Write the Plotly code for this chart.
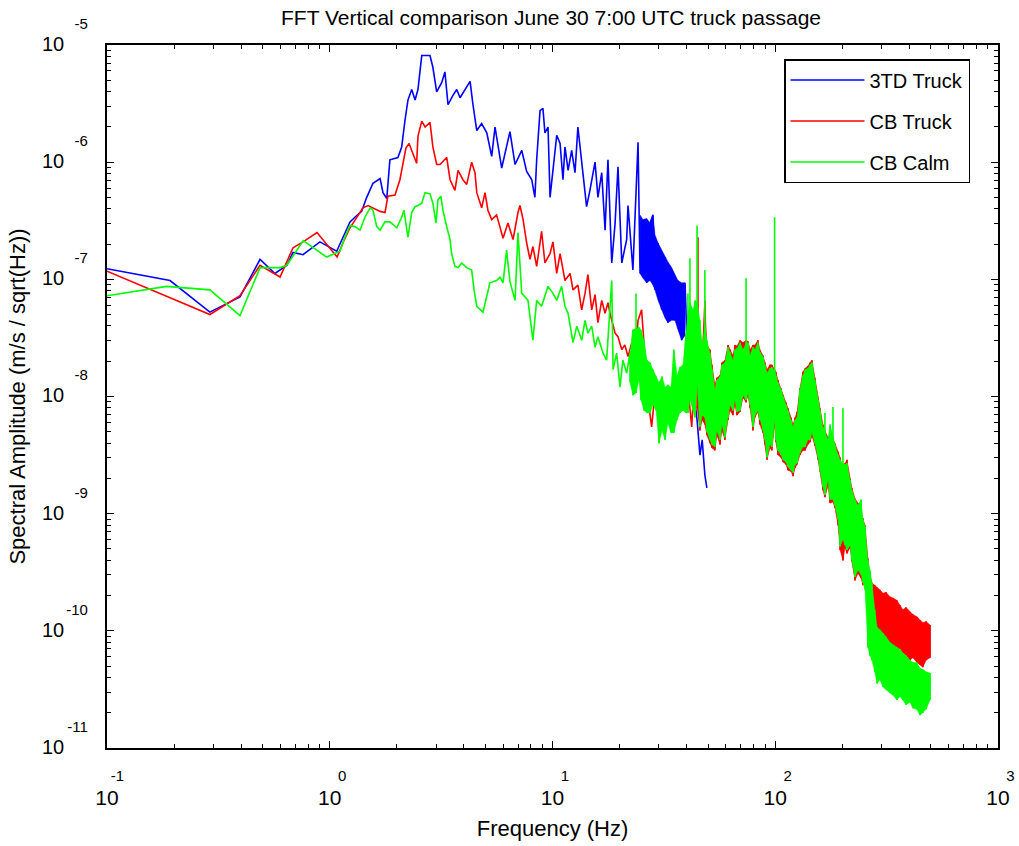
import plotly.graph_objects as go

# Values, stored as decade exponents:
# (log10 frequency [Hz], log10 spectral amplitude [m/s/sqrt(Hz)])
TD3_TRUCK = [
    (-1.000, -6.91), (-0.717, -7.01), (-0.538, -7.28), (-0.403, -7.15), (-0.313, -6.83),
    (-0.246, -6.95), (-0.192, -6.88), (-0.165, -6.77), (-0.120, -6.79), (-0.044, -6.68),
    (0.031, -6.76), (0.059, -6.64), (0.091, -6.51), (0.113, -6.47), (0.143, -6.42),
    (0.166, -6.30), (0.194, -6.18), (0.226, -6.14), (0.239, -6.26), (0.256, -6.31),
    (0.266, -6.08), (0.270, -5.98), (0.306, -5.96), (0.323, -5.87), (0.338, -5.64),
    (0.351, -5.47), (0.368, -5.38), (0.383, -5.47), (0.396, -5.38), (0.413, -5.09),
    (0.450, -5.09), (0.463, -5.19), (0.480, -5.40), (0.503, -5.32), (0.517, -5.23),
    (0.531, -5.51), (0.553, -5.43), (0.570, -5.38), (0.585, -5.45), (0.607, -5.38),
    (0.630, -5.31), (0.643, -5.51), (0.660, -5.73), (0.682, -5.67), (0.705, -5.75),
    (0.727, -5.95), (0.742, -5.70), (0.772, -6.05), (0.809, -5.74), (0.832, -6.02),
    (0.862, -5.90), (0.884, -6.08), (0.907, -6.15), (0.921, -6.30), (0.929, -5.98),
    (0.944, -5.56), (0.957, -5.54), (0.966, -5.75), (0.980, -5.70), (0.989, -6.30),
    (1.002, -6.07), (1.019, -5.77), (1.034, -5.84), (1.047, -6.15), (1.056, -5.87),
    (1.070, -6.07), (1.086, -5.90), (1.101, -6.09), (1.114, -5.70), (1.131, -6.01),
    (1.146, -6.24), (1.153, -6.38), (1.168, -6.24), (1.191, -6.00), (1.204, -6.30),
    (1.221, -6.09), (1.236, -6.58), (1.249, -5.98), (1.266, -6.86), (1.281, -6.52),
    (1.294, -6.04), (1.311, -6.86), (1.333, -6.66), (1.339, -6.37), (1.361, -6.92),
    (1.384, -5.83), (1.393, -6.95), (1.406, -6.58), (1.423, -7.03), (1.438, -6.52),
    (1.451, -6.45), (1.460, -7.09), (1.474, -6.69), (1.490, -7.26), (1.505, -6.81),
    (1.518, -7.37), (1.535, -6.92), (1.550, -7.35), (1.563, -7.01), (1.580, -7.52),
    (1.595, -7.03), (1.602, -7.43), (1.617, -7.69), (1.635, -7.99), (1.649, -8.20),
    (1.662, -8.50), (1.672, -8.37), (1.684, -8.67), (1.693, -8.78),
]

# dense part of the 3TD spectrum: (log10 f, upper envelope, lower envelope)
TD3_TRUCK_BAND = [
    (1.393, -6.45, -6.95), (1.406, -6.49, -6.99), (1.423, -6.48, -7.03), (1.438, -6.52, -7.01),
    (1.451, -6.45, -7.05), (1.460, -6.62, -7.09), (1.474, -6.69, -7.18), (1.490, -6.75, -7.26),
    (1.505, -6.80, -7.33), (1.518, -6.85, -7.37), (1.535, -6.90, -7.35), (1.550, -6.96, -7.35),
    (1.563, -7.01, -7.43), (1.580, -7.03, -7.52), (1.595, -7.03, -7.48),
]

CB_TRUCK_LINE = [
    (-1.000, -6.93), (-0.538, -7.30), (-0.403, -7.14), (-0.313, -6.88), (-0.223, -6.98),
    (-0.165, -6.73), (-0.120, -6.68), (-0.057, -6.60), (0.033, -6.81), (0.059, -6.69),
    (0.091, -6.56), (0.121, -6.47), (0.149, -6.39), (0.172, -6.37), (0.194, -6.39),
    (0.226, -6.42), (0.248, -6.43), (0.261, -6.29), (0.293, -6.28), (0.315, -6.15),
    (0.329, -6.01), (0.342, -5.88), (0.356, -5.84), (0.374, -5.94), (0.390, -6.01),
    (0.396, -5.78), (0.413, -5.65), (0.428, -5.70), (0.450, -5.66), (0.463, -5.87),
    (0.480, -6.02), (0.495, -6.02), (0.525, -5.96), (0.540, -6.15), (0.562, -6.24),
    (0.576, -6.07), (0.598, -6.15), (0.615, -6.19), (0.637, -6.00), (0.652, -6.09),
    (0.660, -6.26), (0.682, -6.39), (0.697, -6.26), (0.710, -6.41), (0.727, -6.49),
    (0.749, -6.45), (0.764, -6.55), (0.778, -6.65), (0.800, -6.52), (0.823, -6.66),
    (0.845, -6.43), (0.854, -6.37), (0.868, -6.49), (0.884, -6.69), (0.899, -6.83),
    (0.912, -6.72), (0.929, -6.89), (0.951, -6.59), (0.966, -6.86), (0.989, -6.78),
    (1.002, -6.68), (1.019, -6.95), (1.034, -6.78), (1.056, -7.01), (1.079, -6.95),
    (1.092, -7.09), (1.114, -7.05), (1.131, -7.26), (1.146, -7.12), (1.159, -6.96),
    (1.176, -7.26), (1.191, -7.13), (1.204, -7.37), (1.221, -7.18), (1.236, -7.29),
    (1.249, -7.20), (1.258, -7.29), (1.281, -7.46), (1.294, -7.49), (1.311, -7.60),
    (1.325, -7.56), (1.339, -7.66), (1.356, -7.54), (1.370, -7.66), (1.384, -7.35),
    (1.400, -7.26), (1.415, -7.66), (1.429, -8.03), (1.445, -8.26), (1.460, -7.97),
    (1.483, -8.09), (1.505, -8.00), (1.527, -8.20), (1.541, -7.97), (1.563, -8.14),
    (1.580, -8.00), (1.595, -8.09), (1.608, -7.92), (1.625, -8.26),
]

CB_TRUCK_BAND = [
    (1.649, -7.45, -8.10), (1.662, -7.43, -8.29), (1.672, -7.60, -8.20), (1.684, -7.18, -8.24),
    (1.693, -7.56, -8.33), (1.707, -7.60, -8.40), (1.716, -7.73, -8.44), (1.729, -7.90, -8.46),
    (1.738, -7.84, -8.33), (1.752, -7.82, -8.41), (1.761, -7.71, -8.29), (1.774, -7.69, -8.37),
    (1.788, -7.56, -8.20), (1.797, -7.60, -8.12), (1.810, -7.65, -8.16), (1.819, -7.56, -8.07),
    (1.828, -7.57, -8.16), (1.842, -7.52, -8.13), (1.855, -7.54, -8.01), (1.869, -7.52, -8.05),
    (1.878, -7.53, -7.99), (1.887, -7.60, -8.10), (1.900, -7.56, -8.29), (1.909, -7.56, -8.18),
    (1.922, -7.52, -8.13), (1.931, -7.60, -8.24), (1.945, -7.65, -8.31), (1.954, -7.71, -8.41),
    (1.963, -7.77, -8.54), (1.976, -7.73, -8.44), (1.985, -7.73, -8.46), (1.997, -7.77, -8.24),
    (2.003, -7.79, -8.39), (2.012, -7.86, -8.50), (2.026, -7.93, -8.52), (2.035, -7.99, -8.56),
    (2.048, -8.05, -8.58), (2.057, -8.10, -8.63), (2.071, -8.18, -8.64), (2.080, -8.24, -8.68),
    (2.089, -8.18, -8.61), (2.098, -8.13, -8.58), (2.111, -7.93, -8.50), (2.124, -7.79, -8.46),
    (2.134, -7.76, -8.46), (2.147, -7.74, -8.41), (2.156, -7.71, -8.39), (2.165, -7.69, -8.34),
    (2.178, -7.84, -8.42), (2.192, -8.01, -8.54), (2.201, -8.10, -8.64), (2.214, -8.24, -8.80),
    (2.223, -8.29, -8.86), (2.237, -8.35, -8.76), (2.246, -8.33, -8.91), (2.259, -8.37, -8.90),
    (2.268, -8.40, -8.95), (2.282, -8.47, -9.10), (2.291, -8.52, -9.31), (2.304, -8.63, -9.40),
    (2.313, -8.57, -9.29), (2.322, -8.54, -9.34), (2.336, -8.70, -9.29), (2.344, -8.78, -9.41),
    (2.358, -8.87, -9.57), (2.371, -8.91, -9.51), (2.385, -8.99, -9.55), (2.394, -9.04, -9.61),
    (2.403, -9.10, -9.57), (2.416, -9.38, -9.74), (2.425, -9.52, -9.99), (2.434, -9.59, -10.08),
    (2.447, -9.61, -10.04), (2.457, -9.63, -10.02), (2.470, -9.65, -9.99), (2.484, -9.68, -10.02),
    (2.497, -9.67, -10.08), (2.515, -9.71, -10.10), (2.529, -9.72, -10.12), (2.546, -9.74, -10.16),
    (2.560, -9.78, -10.15), (2.573, -9.82, -10.19), (2.587, -9.80, -10.21), (2.605, -9.84, -10.25),
    (2.618, -9.86, -10.23), (2.636, -9.88, -10.27), (2.650, -9.91, -10.29), (2.663, -9.93, -10.31),
    (2.677, -9.92, -10.25), (2.695, -9.95, -10.23),
]

# isolated narrow peaks: (log10 f, peak, base)
CB_TRUCK_SPIKES = [(1.653, -6.64, -7.90)]

CB_CALM_LINE = [
    (-1.000, -7.14), (-0.732, -7.06), (-0.538, -7.09), (-0.403, -7.31), (-0.313, -6.90),
    (-0.223, -6.90), (-0.193, -6.88), (-0.119, -6.67), (-0.014, -6.81), (0.046, -6.76),
    (0.068, -6.64), (0.091, -6.54), (0.113, -6.55), (0.136, -6.58), (0.158, -6.47),
    (0.181, -6.39), (0.194, -6.41), (0.211, -6.55), (0.226, -6.58), (0.248, -6.51),
    (0.270, -6.51), (0.301, -6.56), (0.323, -6.47), (0.333, -6.41), (0.351, -6.64),
    (0.368, -6.43), (0.383, -6.38), (0.396, -6.37), (0.413, -6.35), (0.428, -6.26),
    (0.450, -6.27), (0.463, -6.35), (0.477, -6.52), (0.486, -6.32), (0.499, -6.29),
    (0.508, -6.41), (0.525, -6.55), (0.540, -6.66), (0.547, -6.78), (0.562, -6.89),
    (0.576, -6.90), (0.592, -6.86), (0.615, -6.90), (0.637, -6.92), (0.648, -7.09),
    (0.660, -7.23), (0.688, -7.28), (0.719, -7.03), (0.749, -7.01), (0.764, -6.98),
    (0.778, -7.03), (0.794, -6.75), (0.809, -7.02), (0.832, -7.18), (0.845, -6.60),
    (0.862, -7.12), (0.877, -7.15), (0.890, -7.18), (0.912, -7.52), (0.929, -7.18),
    (0.951, -7.23), (0.980, -7.06), (1.002, -7.12), (1.019, -7.18), (1.041, -7.06),
    (1.056, -7.23), (1.070, -7.29), (1.092, -7.54), (1.109, -7.40), (1.131, -7.52),
    (1.146, -7.35), (1.159, -7.46), (1.176, -7.40), (1.191, -7.58), (1.204, -7.49),
    (1.227, -7.63), (1.243, -7.69), (1.266, -7.01), (1.272, -7.77), (1.288, -7.63),
    (1.303, -7.92), (1.316, -7.69), (1.333, -7.80),
]

CB_CALM_BAND = [
    (1.348, -7.63, -7.88), (1.361, -7.43, -7.99), (1.375, -7.42, -7.97), (1.388, -7.41, -7.86),
    (1.397, -7.43, -8.03), (1.411, -7.52, -8.12), (1.424, -7.69, -8.14), (1.438, -7.71, -8.14),
    (1.451, -7.77, -8.07), (1.465, -7.83, -8.12), (1.478, -7.88, -8.40), (1.492, -7.83, -8.29),
    (1.505, -7.92, -8.37), (1.518, -7.90, -8.23), (1.532, -7.92, -8.31), (1.545, -7.60, -8.31),
    (1.559, -7.82, -8.20), (1.572, -7.75, -8.14), (1.586, -7.73, -8.12), (1.599, -7.46, -8.14),
    (1.608, -7.30, -8.14), (1.617, -7.20, -8.03), (1.631, -7.26, -8.12), (1.640, -7.18, -8.18),
    (1.649, -7.20, -7.90), (1.662, -7.35, -8.26), (1.672, -7.56, -8.16), (1.684, -7.40, -8.18),
    (1.693, -7.52, -8.30), (1.707, -7.63, -8.37), (1.716, -7.77, -8.41), (1.729, -7.94, -8.43),
    (1.738, -7.86, -8.29), (1.752, -7.83, -8.37), (1.761, -7.73, -8.24), (1.774, -7.71, -8.35),
    (1.788, -7.58, -8.18), (1.797, -7.62, -8.07), (1.810, -7.69, -8.12), (1.819, -7.60, -8.03),
    (1.828, -7.59, -8.13), (1.842, -7.54, -8.12), (1.855, -7.60, -7.99), (1.869, -7.55, -8.03),
    (1.878, -7.54, -7.97), (1.887, -7.65, -8.07), (1.900, -7.58, -8.26), (1.909, -7.60, -8.16),
    (1.922, -7.54, -8.12), (1.931, -7.62, -8.20), (1.945, -7.66, -8.29), (1.954, -7.73, -8.37),
    (1.963, -7.80, -8.52), (1.976, -7.76, -8.41), (1.985, -7.75, -8.43), (1.997, -7.78, -8.20),
    (2.003, -7.82, -8.37), (2.012, -7.88, -8.46), (2.026, -7.94, -8.50), (2.035, -8.00, -8.54),
    (2.048, -8.07, -8.56), (2.057, -8.12, -8.60), (2.071, -8.20, -8.63), (2.080, -8.26, -8.65),
    (2.089, -8.20, -8.58), (2.098, -8.18, -8.57), (2.111, -7.94, -8.48), (2.124, -7.82, -8.43),
    (2.134, -7.77, -8.43), (2.147, -7.76, -8.37), (2.156, -7.73, -8.37), (2.165, -7.71, -8.31),
    (2.178, -7.86, -8.40), (2.192, -8.03, -8.52), (2.201, -8.12, -8.63), (2.214, -8.26, -8.77),
    (2.223, -8.30, -8.84), (2.237, -8.37, -8.71), (2.246, -8.24, -8.88), (2.259, -8.35, -8.88),
    (2.268, -8.41, -8.93), (2.282, -8.50, -9.05), (2.291, -8.54, -9.28), (2.304, -8.58, -9.22),
    (2.313, -8.58, -9.27), (2.322, -8.57, -9.31), (2.336, -8.71, -9.27), (2.344, -8.80, -9.40),
    (2.358, -8.88, -9.54), (2.371, -8.93, -9.48), (2.385, -8.88, -9.52), (2.394, -9.05, -9.59),
    (2.403, -9.11, -9.65), (2.416, -9.40, -10.14), (2.425, -9.48, -10.21), (2.434, -9.59, -10.25),
    (2.447, -9.82, -10.35), (2.457, -9.97, -10.45), (2.470, -9.99, -10.42), (2.484, -10.02, -10.48),
    (2.497, -10.05, -10.50), (2.515, -10.10, -10.53), (2.529, -10.12, -10.55), (2.546, -10.14, -10.59),
    (2.560, -10.16, -10.56), (2.573, -10.19, -10.59), (2.587, -10.21, -10.63), (2.605, -10.25, -10.61),
    (2.618, -10.27, -10.66), (2.636, -10.27, -10.67), (2.650, -10.32, -10.72), (2.663, -10.33, -10.70),
    (2.677, -10.35, -10.67), (2.695, -10.36, -10.59),
]

CB_CALM_SPIKES = [
    (1.375, -7.12, -7.97), (1.608, -7.12, -8.14), (1.617, -6.82, -8.03), (1.649, -6.54, -7.90),
    (1.684, -6.92, -8.18), (1.869, -6.99, -8.03), (1.997, -6.47, -8.20), (2.223, -8.14, -8.84),
    (2.259, -8.09, -8.88), (2.304, -8.10, -9.22),
]

X_TICK_EXPONENTS = [-1, 0, 1, 2, 3]
Y_TICK_EXPONENTS = [-11, -10, -9, -8, -7, -6, -5]

SERIES_NAMES = ["3TD Truck", "CB Truck", "CB Calm"]
SERIES_COLORS = ["#0000ff", "#ff0000", "#00ff00"]
LINE_WIDTH = 1.6


def line_xy(pairs):
    return [10 ** f for f, _ in pairs], [10 ** a for _, a in pairs]


def zigzag_xy(triples):
    xs, ys = [], []
    for f, hi, lo in triples:
        xs += [10 ** f, 10 ** f]
        ys += [10 ** hi, 10 ** lo]
    return xs, ys


def envelope_polygon(triples):
    xs = [10 ** f for f, _, _ in triples] + [10 ** f for f, _, _ in reversed(triples)]
    ys = [10 ** hi for _, hi, _ in triples] + [10 ** lo for _, _, lo in reversed(triples)]
    return xs, ys


def spikes_xy(triples):
    xs, ys = [], []
    for f, peak, base in triples:
        xs += [10 ** f, 10 ** f, None]
        ys += [10 ** peak, 10 ** base, None]
    return xs, ys


SERIES = [
    dict(line=TD3_TRUCK, band=TD3_TRUCK_BAND, zig=False, spikes=[]),
    dict(line=CB_TRUCK_LINE, band=CB_TRUCK_BAND, zig=True, spikes=CB_TRUCK_SPIKES),
    dict(line=CB_CALM_LINE, band=CB_CALM_BAND, zig=True, spikes=CB_CALM_SPIKES),
]

fig = go.Figure()
for i, (s, name, color) in enumerate(zip(SERIES, SERIES_NAMES, SERIES_COLORS)):
    grp = f"g{i}"
    px_, py_ = envelope_polygon(s["band"])
    fig.add_trace(go.Scatter(
        x=px_, y=py_, mode="lines", fill="toself", fillcolor=color,
        line=dict(color=color, width=0.5), legendgroup=grp, showlegend=False,
        hoverinfo="skip",
    ))
    lx, ly = line_xy(s["line"])
    if s["zig"]:
        zx, zy = zigzag_xy(s["band"])
        lx, ly = lx + zx, ly + zy
    fig.add_trace(go.Scatter(
        x=lx, y=ly, mode="lines", name=name, legendgroup=grp,
        line=dict(color=color, width=LINE_WIDTH),
    ))
    if s["spikes"]:
        sx, sy = spikes_xy(s["spikes"])
        fig.add_trace(go.Scatter(
            x=sx, y=sy, mode="lines", line=dict(color=color, width=LINE_WIDTH),
            legendgroup=grp, showlegend=False, hoverinfo="skip",
        ))

NB = "&nbsp;"
x_ticktext = [
    f"<span style='font-size:15px'>{NB * (5 if e < 0 else 6)}{e}</span><br>"
    f"<span style='font-size:21px'>10</span>"
    for e in X_TICK_EXPONENTS
]
y_ticktext = [
    f"<span style='font-size:15px'>{e}</span><br>"
    f"<span style='font-size:20px'>10</span>{NB * 5}<br>{NB}"
    for e in Y_TICK_EXPONENTS
]

FONT = "Liberation Sans, Arial, Helvetica, sans-serif"

fig.update_layout(
    width=1019, height=846,
    margin=dict(l=107, r=21, t=45, b=98, autoexpand=False),
    paper_bgcolor="white", plot_bgcolor="white",
    font=dict(family=FONT, color="black", size=18),
    title=dict(
        text="FFT Vertical comparison June 30 7:00 UTC truck passage",
        x=551 / 1019, xanchor="center", xref="container",
        y=1 - 18 / 846, yanchor="middle", yref="container",
        font=dict(size=21, family=FONT, color="black"),
    ),
    legend=dict(
        x=(784 - 107) / 891, xanchor="left", y=0.980, yanchor="top",
        bgcolor="white", bordercolor="black", borderwidth=1.5,
        font=dict(size=20, family=FONT, color="black"),
        tracegroupgap=12, itemwidth=74,
    ),
    showlegend=True,
)

fig.update_xaxes(
    type="log", range=[-1, 3], automargin=False,
    showline=True, mirror="ticks", linecolor="black", linewidth=1.5,
    ticks="inside", ticklen=7, tickwidth=1, tickcolor="black",
    tickmode="array", tickvals=[10.0 ** e for e in X_TICK_EXPONENTS], ticktext=x_ticktext,
    tickfont=dict(size=18, family=FONT, color="black"),
    ticklabelstandoff=10,
    minor=dict(ticks="inside", ticklen=4, tickcolor="black", dtick="D1", showgrid=False),
    showgrid=False, zeroline=False,
    title=dict(text="Frequency (Hz)", font=dict(size=22, family=FONT, color="black"), standoff=13),
)
fig.update_yaxes(
    type="log", range=[-11, -5], automargin=False,
    showline=True, mirror="ticks", linecolor="black", linewidth=1.5,
    ticks="inside", ticklen=7, tickwidth=1, tickcolor="black",
    tickmode="array", tickvals=[10.0 ** e for e in Y_TICK_EXPONENTS], ticktext=y_ticktext,
    tickfont=dict(size=17, family=FONT, color="black"),
    ticklabelstandoff=14,
    minor=dict(ticks="inside", ticklen=4, tickcolor="black", dtick="D1", showgrid=False),
    showgrid=False, zeroline=False,
    title=dict(text="Spectral Amplitude (m/s / sqrt(Hz))",
               font=dict(size=22, family=FONT, color="black"), standoff=10),
)

fig.write_html(
    "out.html",
    config={"displayModeBar": False},
    post_script="document.body.style.margin='0px';document.body.style.padding='0px';",
)
